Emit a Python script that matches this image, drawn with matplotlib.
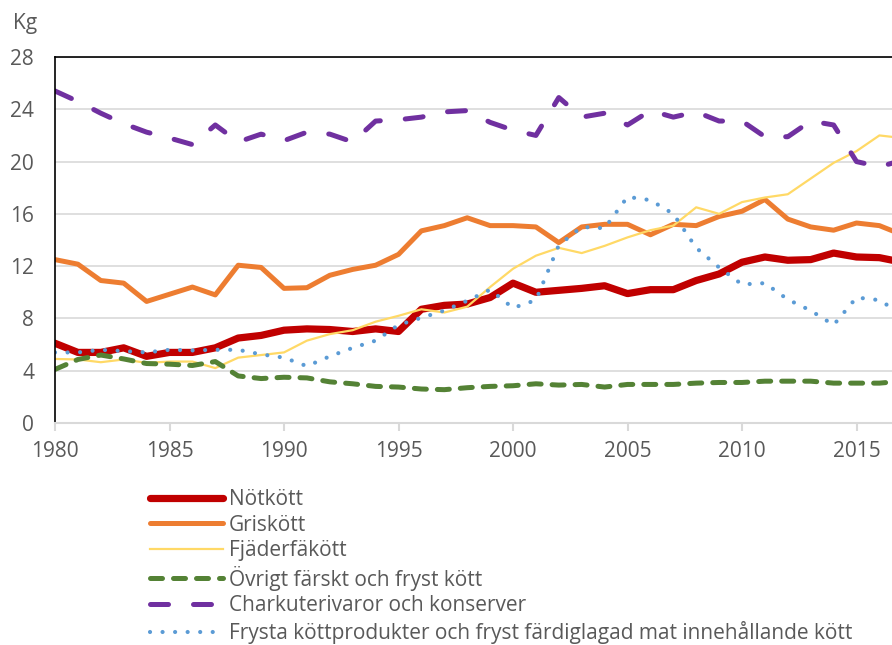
import matplotlib.pyplot as plt

plt.rcParams['font.family'] = ['Open Sans', 'DejaVu Sans']

years = list(range(1980, 2018))

notkott = [6.1, 5.4, 5.4, 5.75, 5.1, 5.4, 5.4, 5.75, 6.5, 6.7, 7.1, 7.2, 7.15, 7.0,
           7.2, 7.0, 8.7, 9.0, 9.1, 9.6, 10.7, 10.0, 10.15, 10.3, 10.5, 9.9,
           10.2, 10.2, 10.9, 11.4, 12.3, 12.7, 12.45, 12.5, 13.0, 12.7, 12.65, 12.3]
griskott = [12.5, 12.15, 10.9, 10.7, 9.3, 9.85, 10.4, 9.8, 12.07, 11.9, 10.3, 10.35, 11.3, 11.75,
            12.07, 12.9, 14.7, 15.1, 15.7, 15.1, 15.1, 15.0, 13.8, 15.0, 15.2, 15.2,
            14.4, 15.2, 15.1, 15.8, 16.2, 17.1, 15.6, 15.0, 14.75, 15.3, 15.1, 14.4]
fjaderfa = [4.9, 4.86, 4.65, 4.86, 4.6, 4.7, 4.7, 4.2, 5.0, 5.2, 5.4, 6.3, 6.8, 7.1,
            7.75, 8.2, 8.7, 8.45, 8.9, 10.4, 11.8, 12.8, 13.4, 13.0, 13.55, 14.2,
            14.75, 15.1, 16.5, 16.0, 16.9, 17.25, 17.5, 18.7, 19.9, 20.8, 22.0, 21.8]
ovrigt = [4.1, 4.86, 5.2, 4.9, 4.55, 4.5, 4.4, 4.7, 3.6, 3.4, 3.5, 3.45, 3.15, 3.0,
          2.8, 2.75, 2.6, 2.55, 2.7, 2.8, 2.85, 3.0, 2.9, 2.95, 2.75, 2.95,
          2.95, 2.95, 3.05, 3.1, 3.1, 3.2, 3.2, 3.2, 3.05, 3.05, 3.05, 3.2]
charkuteri = [25.4, 24.6, 23.7, 22.9, 22.25, 21.8, 21.3, 22.8, 21.5, 22.1, 21.6, 22.25, 22.1, 21.5,
              23.1, 23.2, 23.4, 23.8, 23.9, 23.0, 22.4, 22.0, 24.9, 23.4, 23.7, 22.8,
              23.9, 23.4, 23.8, 23.1, 23.1, 21.9, 21.9, 23.1, 22.8, 20.0, 19.6, 20.1]
frysta = [5.4, 5.4, 5.6, 5.5, 5.4, 5.6, 5.55, 5.6, 5.6, 5.25, 5.0, 4.35, 5.1, 5.75,
          6.3, 7.5, 8.05, 8.6, 9.35, 10.2, 8.8, 9.4, 13.6, 15.0, 14.9, 17.3,
          17.05, 16.0, 13.4, 11.9, 10.6, 10.7, 9.45, 8.6, 7.5, 9.6, 9.4, 8.3]

labels = ['Nötkött', 'Griskött', 'Fjäderfäkött', 'Övrigt färskt och fryst kött',
          'Charkuterivaror och konserver',
          'Frysta köttprodukter och fryst färdiglagad mat innehållande kött']

fig = plt.figure(figsize=(8.92, 6.45), dpi=100)
ax = fig.add_axes([55 / 892, 1 - 423 / 645, 1 - 55 / 892, (423 - 57) / 645])

ax.plot(years, notkott, color='#C00000', lw=5.2, solid_capstyle='round', label=labels[0])
ax.plot(years, griskott, color='#ED7D31', lw=3.6, solid_capstyle='round', label=labels[1])
ax.plot(years, fjaderfa, color='#FFD966', lw=1.6, label=labels[2])
ax.plot(years, ovrigt, color='#548235', lw=3.6, dashes=(2.4, 2.2),
        dash_capstyle='round', label=labels[3])
ax.plot(years, charkuteri, color='#7030A0', lw=3.6, dashes=(3.6, 5.0),
        dash_capstyle='round', label=labels[4])
ax.plot(years, frysta, color='#5B9BD5', lw=3.0, dashes=(0.01, 3.0),
        dash_capstyle='round', label=labels[5])

ax.set_xlim(1980, 1980 + 837 / 22.9)
ax.set_ylim(0, 28)
ax.set_yticks(range(0, 29, 4))
ax.set_xticks(range(1980, 2016, 5))
ax.grid(axis='y', color='#D9D9D9', lw=1.2)
ax.set_axisbelow(True)

for s in ['left', 'top']:
    ax.spines[s].set_color('black')
    ax.spines[s].set_linewidth(1.2)
ax.spines['right'].set_visible(False)
ax.spines['bottom'].set_color('#D9D9D9')
ax.spines['bottom'].set_linewidth(1.5)

ax.tick_params(axis='y', length=0, pad=15, labelsize=15, labelcolor='#595959')
ax.tick_params(axis='x', length=6, width=1.5, color='#D9D9D9', pad=7,
               labelsize=15, labelcolor='#595959')

fig.text(25 / 892, 1 - 24 / 645, 'Kg', ha='center', va='center', fontsize=15, color='#595959')

fig.legend(loc='upper left', bbox_to_anchor=(150 / 892, 1 - 489 / 645), frameon=False,
           fontsize=15, labelcolor='#595959', handlelength=3.5, handletextpad=0.3,
           labelspacing=0.22, borderpad=0, borderaxespad=0)

fig.savefig('out.png', dpi=100)
